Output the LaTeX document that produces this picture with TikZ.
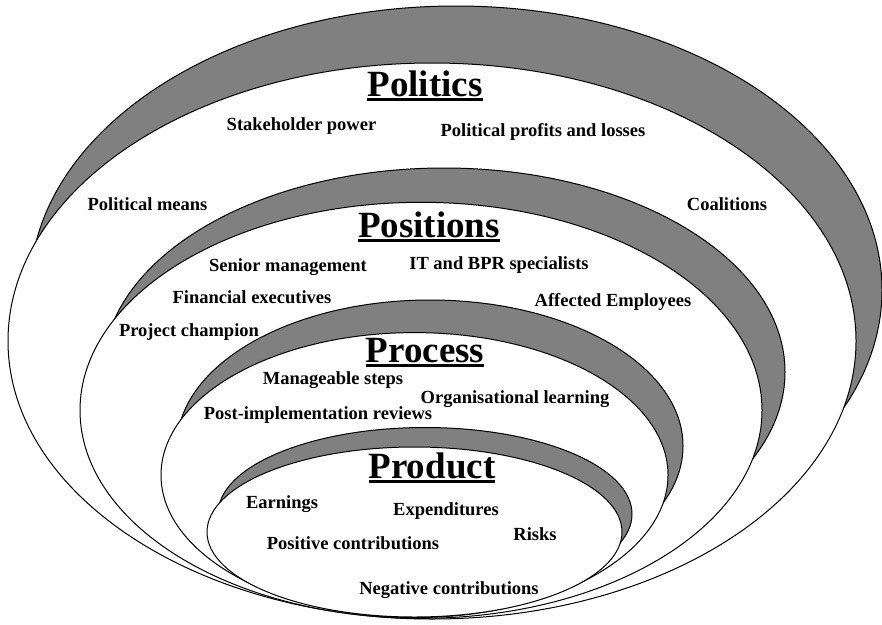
\documentclass[tikz,border=0pt]{standalone}
\usepackage{fontspec}
\setmainfont{Liberation Serif}
% title text with a heavy rule underneath
\newcommand\ruledtitle[1]{\setbox0=\hbox{#1}\rlap{\rule[-4.5pt]{\wd0}{2.6pt}}\box0}
\begin{document}
\begin{tikzpicture}[x=1pt,y=-1pt,
  band/.style={fill=black!50, draw=black, line width=1pt},
  bowl/.style={fill=white, draw=black, line width=1pt},
  lbl/.style={font=\fontsize{18.5}{20}\selectfont\bfseries, inner sep=0pt, anchor=base},
  ttl/.style={font=\fontsize{37}{40}\selectfont\bfseries, inner sep=0pt, anchor=base}]
\useasboundingbox (0,0) rectangle (882,624);

% Politics
\path[band] (456,290) ellipse [x radius=426pt, y radius=284pt];
\path[bowl] (432,341) ellipse [x radius=424pt, y radius=278pt];
% Positions
\path[band] (444,372) ellipse [x radius=341pt, y radius=204pt];
\path[bowl] (421,410.3) ellipse [x radius=341pt, y radius=208pt];
% Process
\path[band] (430,446) ellipse [x radius=253pt, y radius=146pt];
\path[bowl] (414.5,475.1) ellipse [x radius=253.5pt, y radius=142.5pt];
% Product
\path[band] (425,514) ellipse [x radius=207pt, y radius=86.5pt];
\path[bowl] (414.5,532) ellipse [x radius=207.5pt, y radius=85pt];

% titles
\node[ttl] (politics)  at (425,96)    {\ruledtitle{Politics}};
\node[ttl] (positions) at (429,237.5) {\ruledtitle{Positions}};
\node[ttl] (process)   at (425,362.5) {\ruledtitle{Process}};
\node[ttl] (product)   at (432,478)   {\ruledtitle{Product}};

% Politics items
\node[lbl] (stake)   at (301.5,130) {Stakeholder power};
\node[lbl] (profits) at (543,136)   {Political profits and losses};
\node[lbl] (means)   at (147.5,210) {Political means};
\node[lbl] (coal)    at (727,210)   {Coalitions};
% Positions items
\node[lbl] (senior)  at (288,271.5) {Senior management};
\node[lbl] (itbpr)   at (499,269.5) {IT and BPR specialists};
\node[lbl] (fin)     at (252,303)   {Financial executives};
\node[lbl] (affect)  at (613,306)   {Affected Employees};
\node[lbl] (champ)   at (189,336)   {Project champion};
% Process items
\node[lbl] (steps)   at (333,384)   {Manageable steps};
\node[lbl] (learn)   at (515,403)   {Organisational learning};
\node[lbl] (review)  at (318,419)   {Post-implementation reviews};
% Product items
\node[lbl] (earn)    at (282,508)   {Earnings};
\node[lbl] (expend)  at (446,515)   {Expenditures};
\node[lbl] (risks)   at (535,540)   {Risks};
\node[lbl] (poscon)  at (353,549)   {Positive contributions};
\node[lbl] (negcon)  at (449,594)   {Negative contributions};
\end{tikzpicture}
\end{document}
